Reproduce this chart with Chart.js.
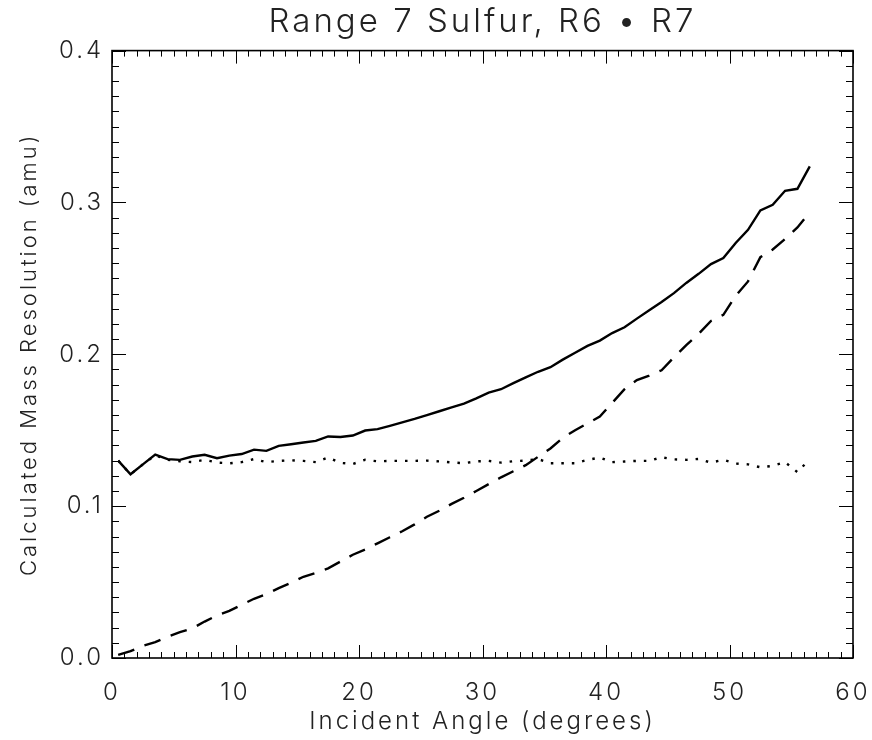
<!DOCTYPE html>
<html lang="en">
<head>
  <meta charset="UTF-8" />
  <title>Range 7 Sulfur, R6 • R7</title>
  <script src="https://cdn.jsdelivr.net/npm/chart.js"></script>
  <style>
    html, body { margin: 0; padding: 0; background: #fff; }
  </style>
</head>
<body>
  <canvas id="massChart" width="872" height="740"></canvas>

  <script>
    // incident angle (degrees) of each sample
    const angles = [
      0.5, 1.5, 2.5, 3.5, 4.5, 5.5, 6.5, 7.5, 8.5, 9.5,
      10.5, 11.5, 12.5, 13.5, 14.5, 15.5, 16.5, 17.5, 18.5, 19.5,
      20.5, 21.5, 22.5, 23.5, 24.5, 25.5, 26.5, 27.5, 28.5, 29.5,
      30.5, 31.5, 32.5, 33.5, 34.5, 35.5, 36.5, 37.5, 38.5, 39.5,
      40.5, 41.5, 42.5, 43.5, 44.5, 45.5, 46.5, 47.5, 48.5, 49.5,
      50.5, 51.5, 52.5, 53.5, 54.5, 55.5, 56.5
    ];

    // calculated mass resolution (amu) - solid curve
    const solidRes = [
      0.130, 0.121, 0.1275, 0.134, 0.131, 0.1305, 0.1327, 0.1338, 0.1316, 0.1333,
      0.1343, 0.1372, 0.1364, 0.1397, 0.1408, 0.1419, 0.1430, 0.1459, 0.1455, 0.1465,
      0.1498, 0.1507, 0.1529, 0.1552, 0.1575, 0.160, 0.1625, 0.165, 0.1675, 0.171,
      0.1748, 0.177, 0.181, 0.1848, 0.1885, 0.1915, 0.1965, 0.201, 0.2055, 0.209,
      0.214, 0.2178, 0.2235, 0.229, 0.2344, 0.2403, 0.247, 0.253, 0.2594, 0.2634,
      0.2733, 0.282, 0.2948, 0.2985, 0.3077, 0.309, 0.3238
    ];

    // dashed curve
    const dashedRes = [
      0.002, 0.0045, 0.008, 0.0105, 0.014, 0.017, 0.0195, 0.024, 0.028, 0.031,
      0.035, 0.039, 0.042, 0.046, 0.0495, 0.0535, 0.056, 0.059, 0.0635, 0.068,
      0.0715, 0.0755, 0.0795, 0.0835, 0.088, 0.093, 0.097, 0.1015, 0.1055, 0.110,
      0.1145, 0.119, 0.123, 0.127, 0.1325, 0.138, 0.145, 0.150, 0.1545, 0.159,
      0.168, 0.177, 0.183, 0.186, 0.1895, 0.198, 0.206, 0.2135, 0.222, 0.226,
      0.2385, 0.248, 0.264, 0.269, 0.276, 0.2835, 0.2935
    ];

    // dotted curve
    const dottedRes = [
      0.130, 0.121, 0.1275, 0.1335, 0.1305, 0.1295, 0.129, 0.1305, 0.1287, 0.1282,
      0.129, 0.131, 0.129, 0.1298, 0.1302, 0.1298, 0.129, 0.132, 0.1285, 0.1278,
      0.1305, 0.1295, 0.1298, 0.1298, 0.1298, 0.130, 0.1295, 0.1288, 0.1283, 0.1295,
      0.1298, 0.1287, 0.1296, 0.130, 0.131, 0.1283, 0.1283, 0.1283, 0.1305, 0.132,
      0.129, 0.1294, 0.1298, 0.1298, 0.1322, 0.1308, 0.1305, 0.1311, 0.1287, 0.1305,
      0.128, 0.1275, 0.1256, 0.1265, 0.129, 0.1224, 0.131
    ];

    const xTicks = [0, 10, 20, 30, 40, 50, 60];
    const yTicks = [0.0, 0.1, 0.2, 0.3, 0.4];

    const FONT = "Inter, 'DejaVu Sans', sans-serif";
    const INK = '#222';

    const toPoints = ys => angles.map((a, i) => ({ x: a, y: ys[i] }));

    // wide lettering, closer to the original plot's stroke font
    const wideText = {
      id: 'wideText',
      beforeLayout(chart) { chart.ctx.letterSpacing = '3px'; },
      beforeDraw(chart) { chart.ctx.letterSpacing = '3px'; }
    };

    // IDL style box with inward major/minor ticks on all four sides
    const boxTicks = {
      id: 'boxTicks',
      afterDatasetsDraw(chart) {
        const { ctx, chartArea: a, scales: { x, y } } = chart;
        ctx.save();
        ctx.strokeStyle = '#000';
        ctx.lineWidth = 1.6;
        ctx.strokeRect(a.left, a.top, a.right - a.left, a.bottom - a.top);
        ctx.lineWidth = 1;
        ctx.beginPath();
        for (let v = 0; v <= 60; v++) {
          const px = Math.round(x.getPixelForValue(v)) + 0.5;
          const len = v % 10 === 0 ? 13 : 6;
          ctx.moveTo(px, a.bottom); ctx.lineTo(px, a.bottom - len);
          ctx.moveTo(px, a.top); ctx.lineTo(px, a.top + len);
        }
        for (let i = 0; i <= 40; i++) {
          const py = Math.round(y.getPixelForValue(i / 100)) + 0.5;
          const len = i % 10 === 0 ? 14 : 7;
          ctx.moveTo(a.left, py); ctx.lineTo(a.left + len, py);
          ctx.moveTo(a.right, py); ctx.lineTo(a.right - len, py);
        }
        ctx.stroke();
        ctx.restore();
      }
    };

    const lineStyle = { borderColor: '#000', borderWidth: 2.4, pointRadius: 0, tension: 0, fill: false };

    new Chart(document.getElementById('massChart'), {
      type: 'line',
      data: {
        datasets: [
          { ...lineStyle, label: 'solid', data: toPoints(solidRes) },
          { ...lineStyle, label: 'dashed', data: toPoints(dashedRes), borderDash: [17, 11] },
          { ...lineStyle, label: 'dotted', data: toPoints(dottedRes), borderDash: [2.5, 8], borderCapStyle: 'butt' }
        ]
      },
      options: {
        responsive: false,
        animation: false,
        layout: { padding: { left: 0, right: 19, top: 0, bottom: 0 } },
        plugins: {
          legend: { display: false },
          tooltip: { enabled: false },
          title: {
            display: true,
            text: 'Range 7 Sulfur, R6 • R7',
            fullSize: false,
            color: INK,
            font: { family: FONT, size: 33, weight: '300' },
            padding: { top: 2, bottom: 9 }
          }
        },
        scales: {
          x: {
            type: 'linear',
            min: 0, max: 60,
            afterBuildTicks: s => { s.ticks = xTicks.map(v => ({ value: v })); },
            afterFit: s => { s.height = 82; s.paddingLeft = 0; s.paddingRight = 0; },
            grid: { display: false, drawTicks: false },
            border: { display: false },
            ticks: { padding: 20, color: INK, font: { family: FONT, size: 24, weight: '300' }, maxRotation: 0 },
            title: {
              display: true, text: 'Incident Angle (degrees)', color: INK,
              font: { family: FONT, size: 24, weight: '300' }, padding: { top: 0, bottom: 4 }
            }
          },
          y: {
            min: 0, max: 0.4,
            afterBuildTicks: s => { s.ticks = yTicks.map(v => ({ value: v })); },
            afterFit: s => { s.width = 112; },
            grid: { display: false, drawTicks: false },
            border: { display: false },
            ticks: { padding: 8, color: INK, font: { family: FONT, size: 24, weight: '300' }, callback: v => v.toFixed(1) },
            title: {
              display: true, text: 'Calculated Mass Resolution (amu)', color: INK,
              font: { family: FONT, size: 22, weight: '300' }, padding: { top: 16, bottom: 0 }
            }
          }
        }
      },
      plugins: [wideText, boxTicks]
    });
  </script>
</body>
</html>
